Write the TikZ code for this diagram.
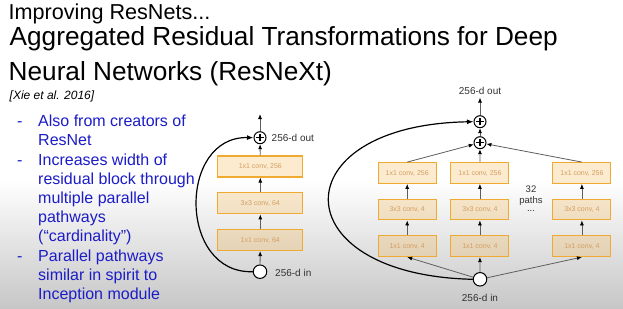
\documentclass[tikz,border=0pt]{standalone}
\usepackage{fontspec}
\setmainfont{Liberation Sans}
\usetikzlibrary{arrows.meta}
\definecolor{bulletblue}{RGB}{28,28,200}
\definecolor{boxborder}{RGB}{240,170,50}
\definecolor{boxfill}{RGB}{245,166,35}
\definecolor{boxtext}{RGB}{212,158,98}
\definecolor{lblgray}{RGB}{50,50,50}
\definecolor{arrgray}{RGB}{95,95,95}
\begin{document}
\begin{tikzpicture}[x=1pt,y=-1pt,
  conv/.style={draw=boxborder, line width=1.1pt, fill=boxfill, fill opacity=0.22, text opacity=1,
    text=boxtext, font=\fontsize{7}{8}\selectfont, inner sep=0pt, minimum height=21pt},
  lconv/.style={conv, minimum width=85pt},
  rconv/.style={conv, minimum width=58pt, minimum height=20.7pt},
  plus/.style={circle, draw=black, line width=1pt, fill=white, minimum size=12pt, inner sep=0pt,
    path picture={\draw[line width=1.3pt]
      ([xshift=-3.6pt]path picture bounding box.center) -- ([xshift=3.6pt]path picture bounding box.center)
      ([yshift=-3.6pt]path picture bounding box.center) -- ([yshift=3.6pt]path picture bounding box.center);}},
  incirc/.style={circle, draw=black, line width=1pt, fill=white, minimum size=13.5pt, inner sep=0pt},
  lbl/.style={text=lblgray, font=\fontsize{10}{12}\selectfont, inner sep=0pt},
  arr/.style={draw=arrgray, line width=0.8pt, -{Latex[length=5pt,width=4pt,color=black]}},
  skip/.style={draw=black, line width=1.2pt, -{Latex[length=6.5pt,width=5pt]}},
  bul/.style={text=bulletblue, font=\fontsize{16}{19}\selectfont, anchor=base west, inner sep=0pt}
]
% background
\fill[white] (0,0) rectangle (623,308);
\shade[top color=white, bottom color=gray!44] (0,180) rectangle (623,308);
\useasboundingbox (0,0) rectangle (623,308);

% titles
\node[anchor=base west, inner sep=0pt, font=\fontsize{21.6}{21.6}\selectfont] (t1) at (8.5,19) {Improving ResNets...};
\node[anchor=base west, inner sep=0pt, font=\fontsize{26.2}{26.2}\selectfont] (t2) at (9.5,45.3) {Aggregated Residual Transformations for Deep};
\node[anchor=base west, inner sep=0pt, font=\fontsize{26.2}{26.2}\selectfont] (t3) at (8.5,80.3) {Neural Networks (ResNeXt)};
\node[anchor=base west, inner sep=0pt, font=\fontsize{12}{12}\itshape] (cite) at (9.5,99.5) {[Xie et al. 2016]};

% bullets
\node[bul] (d1) at (17,126.7) {-};
\node[bul] (b1) at (38,126.7) {Also from creators of};
\node[bul] (b2) at (38,145.9) {ResNet};
\node[bul] (d2) at (17,165.1) {-};
\node[bul] (b3) at (38,165.1) {Increases width of};
\node[bul] (b4) at (38,184.3) {residual block through};
\node[bul] (b5) at (38,203.5) {multiple parallel};
\node[bul] (b6) at (38,222.7) {pathways};
\node[bul] (b7) at (38,241.9) {(“cardinality”)};
\node[bul] (d3) at (17,261.1) {-};
\node[bul] (b8) at (38,261.1) {Parallel pathways};
\node[bul] (b9) at (38,280.3) {similar in spirit to};
\node[bul] (b10) at (38,299.5) {Inception module};

% left block (ResNet)
\node[plus] (lp) at (260,137.7) {};
\node[lconv] (l1) at (260.3,166.5) {1x1 conv, 256};
\node[lconv] (l2) at (260.3,203.3) {3x3 conv, 64};
\node[lconv] (l3) at (260.3,240) {1x1 conv, 64};
\node[incirc] (lin) at (260,271.7) {};
\coordinate (ltop) at (260,114);
\node[lbl, anchor=west] (lout) at (271.5,138) {256-d out};
\node[lbl, anchor=west] (linl) at (275,272.5) {256-d in};
\draw[arr] (lin) -- (l3);
\draw[arr] (l3) -- (l2);
\draw[arr] (l2) -- (l1);
\draw[arr] (l1) -- (lp);
\draw[arr] (lp) -- (ltop);
\draw[skip] (lin.west) .. controls (178,274) and (178,136) .. (lp.west);

% right block (ResNeXt)
\node[plus] (rp1) at (480,121.7) {};
\node[plus] (rp2) at (480,142.7) {};
\coordinate (rtop) at (480,97.5);
\node[lbl] (rout) at (480,90.5) {256-d out};
\node[incirc] (rin) at (480,279.3) {};
\node[lbl] (rinl) at (480,298) {256-d in};

\node[rconv] (a1) at (407.2,173) {1x1 conv, 256};
\node[rconv] (a2) at (407.2,209.5) {3x3 conv, 4};
\node[rconv] (a3) at (407.2,246.2) {1x1 conv, 4};
\node[rconv] (c1) at (479.9,173) {1x1 conv, 256};
\node[rconv] (c2) at (479.9,209.5) {3x3 conv, 4};
\node[rconv] (c3) at (479.9,246.2) {1x1 conv, 4};
\node[rconv] (e1) at (581.9,173) {1x1 conv, 256};
\node[rconv] (e2) at (581.9,209.5) {3x3 conv, 4};
\node[rconv] (e3) at (581.9,246.2) {1x1 conv, 4};

\node[lbl, font=\fontsize{9.5}{11}\selectfont, align=center, anchor=north] (npaths) at (531,185.6) {32\\paths\\[-3pt]...};

\draw[arr] (rin) -- (a3.south);
\draw[arr] (rin) -- (c3);
\draw[arr] (rin) -- (e3.south);
\draw[arr] (a3) -- (a2);
\draw[arr] (a2) -- (a1);
\draw[arr] (c3) -- (c2);
\draw[arr] (c2) -- (c1);
\draw[arr] (e3) -- (e2);
\draw[arr] (e2) -- (e1);
\draw[arr] (a1.north) -- (rp2);
\draw[arr] (c1) -- (rp2);
\draw[arr] (e1.north) -- (rp2);
\draw[arr] (rp2) -- (rp1);
\draw[arr] (rp1) -- (rtop);
\draw[skip] (rin.west) .. controls (281,275) and (281,125) .. (rp1.west);
\end{tikzpicture}
\end{document}
